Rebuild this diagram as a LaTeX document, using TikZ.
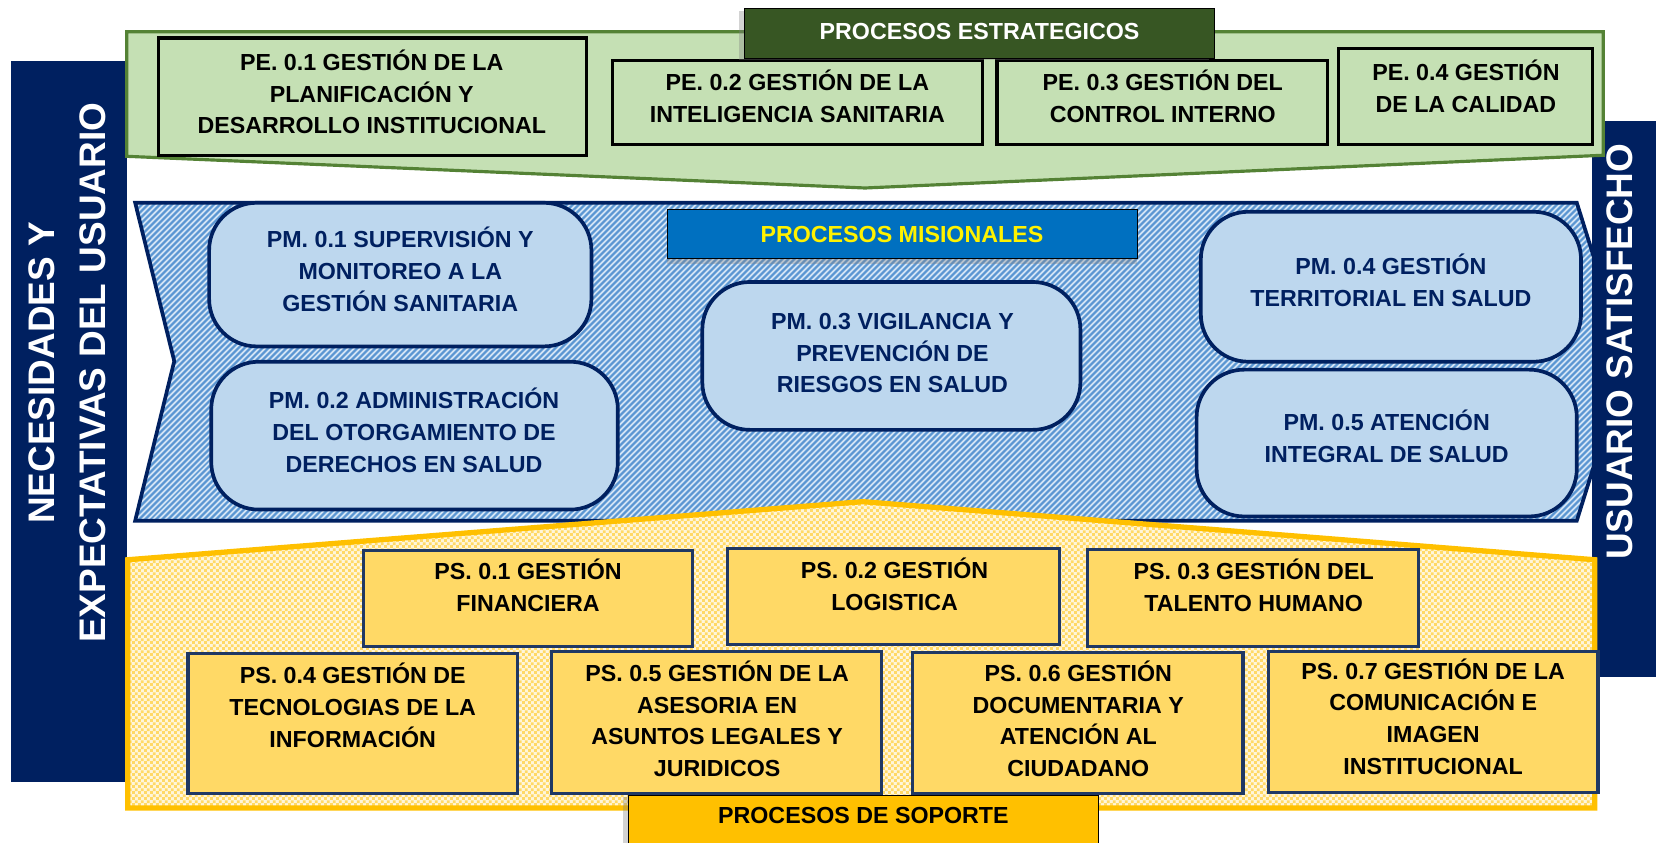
\documentclass[tikz,border=0pt]{standalone}
\usepackage{fontspec}
\setmainfont{Liberation Sans}
\usetikzlibrary{patterns.meta,shadows}

\definecolor{navyband}{HTML}{002060}
\definecolor{peframe}{HTML}{548235}
\definecolor{pefill}{HTML}{C5E0B4}
\definecolor{petitle}{HTML}{375623}
\definecolor{pmtitle}{HTML}{0070C0}
\definecolor{pmfill}{HTML}{BDD7EE}
\definecolor{pmstripe}{HTML}{5B96D2}
\definecolor{pmback}{HTML}{D3E4F5}
\definecolor{psframe}{HTML}{FFC000}
\definecolor{psfill}{HTML}{FFD966}
\definecolor{psback}{HTML}{FFF6DA}
\definecolor{pschecks}{HTML}{FFD966}
\definecolor{psline}{HTML}{1F3864}

\pgfdeclarepatternformonly{checks}{\pgfpointorigin}{\pgfqpoint{6pt}{6pt}}{\pgfqpoint{6pt}{6pt}}{%
  \pgfpathrectangle{\pgfpointorigin}{\pgfqpoint{3pt}{3pt}}%
  \pgfpathrectangle{\pgfqpoint{3pt}{3pt}}{\pgfqpoint{3pt}{3pt}}%
  \pgfusepath{fill}}

\tikzset{
  boxtext/.style={font=\fontsize{22}{30}\selectfont\bfseries, align=center, inner sep=0pt},
  titletext/.style={font=\fontsize{22}{26}\selectfont\bfseries, inner sep=0pt},
  sidetext/.style={font=\fontsize{35}{48}\selectfont\bfseries, align=center, inner sep=0pt, text=white, rotate=90},
  bandbox/.style={fill=navyband, inner sep=0pt},
  titlebox/.style={draw=black, line width=0.8pt, minimum width=445pt, minimum height=47pt, inner sep=0pt},
  pebox/.style={draw=black, line width=3pt, fill=pefill, inner sep=0pt},
  pmbox/.style={draw=navyband, line width=3.5pt, fill=pmfill, rounded corners=45pt, inner sep=0pt},
  psbox/.style={draw=psline, line width=3pt, fill=psfill, inner sep=0pt}
}

\begin{document}
\begin{tikzpicture}[x=1pt,y=-1pt]
\useasboundingbox (0,0) rectangle (1568,798);

\node[bandbox, minimum width=110pt, minimum height=682pt] (needsbar) at (65,399) {};

\path[fill=pmback, postaction={pattern={Lines[angle=45,distance=4pt,line width=2.2pt]}, pattern color=pmstripe},
      postaction={draw=navyband, line width=3.5pt}]
  (128,192) -- (1493,192) -- (1540,342) -- (1493,493) -- (128,493) -- (165,342) -- cycle;

\node[bandbox, minimum width=61pt, minimum height=526pt] (satisbar) at (1537.5,378) {};

\draw[draw=peframe, line width=3pt, fill=pefill] (120,30) -- (1518,30) -- (1518,147) -- (819,178) -- (120,148) -- cycle;

\path[fill=psback, postaction={pattern=checks, pattern color=pschecks}, postaction={draw=psframe, line width=5pt}]
  (121,530) -- (817,475) -- (1510,530) -- (1510,765) -- (121,765) -- cycle;

\node[sidetext] (needstext) at (64,353) {NECESIDADES Y\\EXPECTATIVAS DEL USUARIO};
\node[sidetext] (satistext) at (1534,333) {USUARIO SATISFECHO};

% estrategicos
\node[pebox, minimum width=405pt, minimum height=111pt] (pe1) at (352.5,91.5) {};
\node[pebox, minimum width=350pt, minimum height=80pt] (pe2) at (755,97) {};
\node[pebox, minimum width=313pt, minimum height=80pt] (pe3) at (1100.5,97) {};
\node[pebox, minimum width=241pt, minimum height=91pt] (pe4) at (1387.5,91.5) {};
\node[boxtext] (pe1text) at (352,87) {PE. 0.1 GESTIÓN DE LA\\PLANIFICACIÓN Y\\DESARROLLO INSTITUCIONAL};
\node[boxtext] (pe2text) at (755,91) {PE. 0.2 GESTIÓN DE LA\\INTELIGENCIA SANITARIA};
\node[boxtext] (pe3text) at (1101,91) {PE. 0.3 GESTIÓN DEL\\CONTROL INTERNO};
\node[boxtext] (pe4text) at (1388,82) {PE. 0.4 GESTIÓN\\DE LA CALIDAD};
\node[titlebox, fill=petitle, drop shadow={shadow xshift=-5pt, shadow yshift=-2pt, opacity=.35}] (stratbox) at (927.5,31.5) {};
\node[titletext, text=white] (strattitle) at (927.5,30) {PROCESOS ESTRATEGICOS};

% misionales
\node[pmbox, minimum width=362pt, minimum height=136pt] (pm1) at (379,260) {};
\node[pmbox, minimum width=385pt, minimum height=140pt] (pm2) at (392.5,412.5) {};
\node[pmbox, minimum width=358pt, minimum height=140pt] (pm3) at (844,337) {};
\node[pmbox, minimum width=360pt, minimum height=142pt] (pm4) at (1317,271.5) {};
\node[pmbox, minimum width=360pt, minimum height=139pt] (pm5) at (1313,419.5) {};
\node[boxtext, text=navyband] (pm1text) at (379,255) {PM. 0.1 SUPERVISIÓN Y\\MONITOREO A LA\\GESTIÓN SANITARIA};
\node[boxtext, text=navyband] (pm2text) at (392,407.5) {PM. 0.2 ADMINISTRACIÓN\\DEL OTORGAMIENTO DE\\DERECHOS EN SALUD};
\node[boxtext, text=navyband] (pm3text) at (845,334.5) {PM. 0.3 VIGILANCIA Y\\PREVENCIÓN DE\\RIESGOS EN SALUD};
\node[boxtext, text=navyband] (pm4text) at (1317,265.5) {PM. 0.4 GESTIÓN\\TERRITORIAL EN SALUD};
\node[boxtext, text=navyband] (pm5text) at (1313,413) {PM. 0.5 ATENCIÓN\\INTEGRAL DE SALUD};
\node[titlebox, fill=pmtitle, drop shadow={shadow xshift=0pt, shadow yshift=-5pt, opacity=.35}] (misbox) at (854,221.5) {};
\node[titletext, text=yellow] (mistitle) at (854,222) {PROCESOS MISIONALES};

% soporte
\node[psbox, minimum width=312pt, minimum height=91pt] (ps1) at (500,566.5) {};
\node[psbox, minimum width=314pt, minimum height=91pt] (ps2) at (846,564.5) {};
\node[psbox, minimum width=313pt, minimum height=92pt] (ps3) at (1186.5,566) {};
\node[psbox, minimum width=312pt, minimum height=132pt] (ps4) at (334,685) {};
\node[psbox, minimum width=313pt, minimum height=134pt] (ps5) at (678.5,684) {};
\node[psbox, minimum width=313pt, minimum height=133pt] (ps6) at (1020.5,684.5) {};
\node[psbox, minimum width=312pt, minimum height=133pt] (ps7) at (1357,683.5) {};
\node[boxtext] (ps1text) at (500,554) {PS. 0.1 GESTIÓN\\FINANCIERA};
\node[boxtext] (ps2text) at (847,553) {PS. 0.2 GESTIÓN\\LOGISTICA};
\node[boxtext] (ps3text) at (1187,554) {PS. 0.3 GESTIÓN DEL\\TALENTO HUMANO};
\node[boxtext] (ps4text) at (334,668) {PS. 0.4 GESTIÓN DE\\TECNOLOGIAS DE LA\\INFORMACIÓN};
\node[boxtext] (ps5text) at (679,680.5) {PS. 0.5 GESTIÓN DE LA\\ASESORIA EN\\ASUNTOS LEGALES Y\\JURIDICOS};
\node[boxtext] (ps6text) at (1021,680.5) {PS. 0.6 GESTIÓN\\DOCUMENTARIA Y\\ATENCIÓN AL\\CIUDADANO};
\node[boxtext] (ps7text) at (1357,678.5) {PS. 0.7 GESTIÓN DE LA\\COMUNICACIÓN E\\IMAGEN\\INSTITUCIONAL};
\node[titlebox, fill=psframe, drop shadow={shadow xshift=-5pt, shadow yshift=-2pt, opacity=.35}] (supbox) at (817.5,776.5) {};
\node[titletext] (suptitle) at (817.5,772) {PROCESOS DE SOPORTE};
\end{tikzpicture}
\end{document}
